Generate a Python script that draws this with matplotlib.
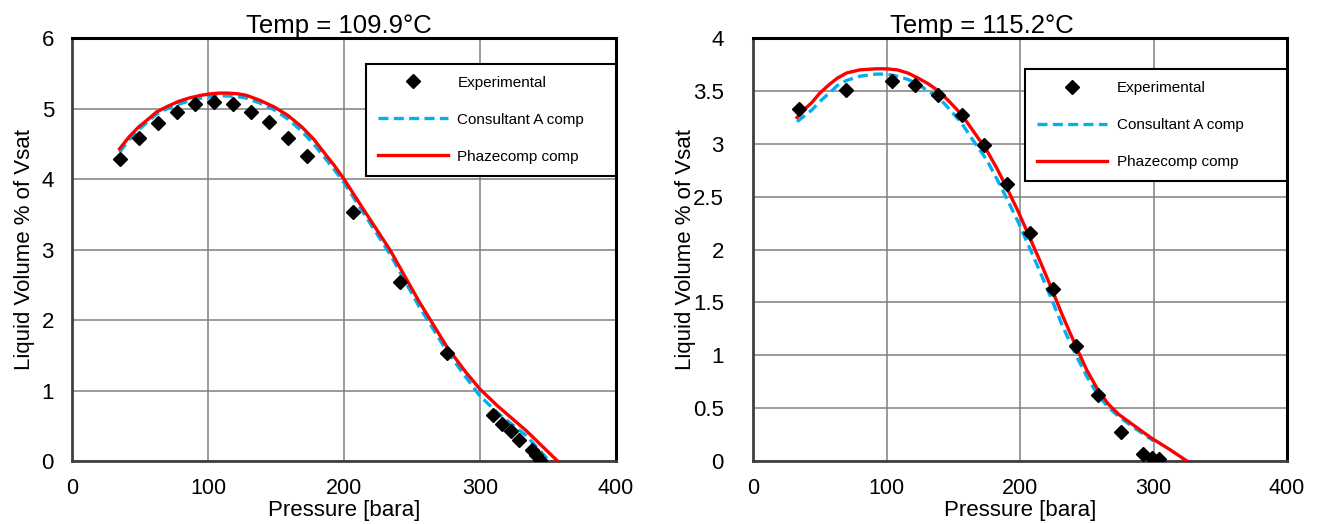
import matplotlib.pyplot as plt

plt.rcParams['font.family'] = ['Liberation Sans', 'DejaVu Sans']

# 109.9 C
exp_p_1 = [35, 49.5, 63, 77, 90.7, 104.4, 118.2, 131.8, 144.6, 159, 173,
           206.6, 241, 275.7, 309.8, 316.4, 322.6, 328.7, 338, 341, 344]
exp_v_1 = [4.29, 4.59, 4.80, 4.95, 5.06, 5.09, 5.06, 4.95, 4.81, 4.59, 4.33,
           3.53, 2.54, 1.53, 0.65, 0.53, 0.42, 0.30, 0.16, 0.08, 0.01]
consA_p_1 = [35, 42, 49, 56, 62, 70, 78, 86, 95, 102, 108, 115, 122, 128, 138, 149, 159, 169,
             178, 186, 193, 200, 215, 234, 255, 276, 290, 300, 315, 334, 351]
consA_v_1 = [4.38, 4.56, 4.70, 4.82, 4.92, 5.00, 5.06, 5.11, 5.15, 5.17, 5.18, 5.18, 5.17, 5.15,
             5.08, 4.98, 4.85, 4.68, 4.49, 4.30, 4.13, 3.95, 3.50, 2.93, 2.20, 1.55, 1.18, 0.92,
             0.65, 0.36, 0.0]
phz_p_1 = [35, 42, 49, 56, 62, 70, 78, 86, 95, 102, 108, 115, 122, 128, 138, 149, 159, 169,
           178, 186, 193, 200, 215, 234, 255, 276, 290, 300, 313, 334, 357]
phz_v_1 = [4.43, 4.60, 4.74, 4.85, 4.95, 5.03, 5.10, 5.15, 5.19, 5.21, 5.22, 5.22, 5.21, 5.19,
           5.12, 5.02, 4.90, 4.74, 4.56, 4.36, 4.19, 4.00, 3.55, 2.99, 2.27, 1.61, 1.25, 1.02,
           0.78, 0.43, 0.0]

# 115.2 C
exp_p_2 = [34.4, 69.5, 104.2, 121.3, 138.8, 156.2, 173.2, 190.1, 207.8, 225, 242.1,
           258.7, 275.4, 292.4, 298.6, 304.4]
exp_v_2 = [3.33, 3.51, 3.59, 3.56, 3.46, 3.27, 2.99, 2.62, 2.16, 1.63, 1.09,
           0.62, 0.27, 0.07, 0.03, 0.02]
consA_p_2 = [33, 38, 44, 50, 57, 63, 70, 80, 92, 100, 108, 116, 124, 131, 139, 147, 156, 165,
             175, 183, 191, 199, 207, 215, 223, 232, 242, 250, 258, 266, 274, 286, 300]
consA_v_2 = [3.21, 3.26, 3.32, 3.40, 3.48, 3.55, 3.60, 3.64, 3.66, 3.66, 3.64, 3.61, 3.56, 3.50,
             3.44, 3.33, 3.20, 3.03, 2.85, 2.66, 2.46, 2.25, 2.02, 1.79, 1.55, 1.27, 1.00, 0.80,
             0.63, 0.51, 0.42, 0.31, 0.19]
phz_p_2 = [33, 38, 44, 50, 57, 63, 70, 80, 92, 100, 108, 116, 124, 131, 139, 147, 156, 165,
           175, 183, 191, 199, 207, 215, 223, 232, 242, 250, 258, 266, 274, 286, 298, 312, 325]
phz_v_2 = [3.25, 3.32, 3.39, 3.48, 3.56, 3.62, 3.67, 3.70, 3.71, 3.71, 3.70, 3.67, 3.62, 3.57,
           3.50, 3.40, 3.28, 3.12, 2.94, 2.76, 2.56, 2.35, 2.12, 1.89, 1.65, 1.37, 1.08, 0.86,
           0.68, 0.54, 0.44, 0.33, 0.22, 0.11, 0.0]

titles = ['Temp = 109.9°C', 'Temp = 115.2°C']
x_ticks = [0, 100, 200, 300, 400]
y_ticks_1 = [0, 1, 2, 3, 4, 5, 6]
y_ticks_2 = [0, 0.5, 1, 1.5, 2, 2.5, 3, 3.5, 4]
y_labels_2 = ['0', '0.5', '1', '1.5', '2', '2.5', '3', '3.5', '4']

fig = plt.figure(figsize=(13.19, 5.24), dpi=100)
ax1 = fig.add_axes([0.0546, 0.1202, 0.4124, 0.807])
ax2 = fig.add_axes([0.5709, 0.1202, 0.4049, 0.807])

panels = [
    (ax1, exp_p_1, exp_v_1, consA_p_1, consA_v_1, phz_p_1, phz_v_1, y_ticks_1,
     [str(t) for t in y_ticks_1], 6, (0.540, 0.678, 0.46, 0.262), 0.491, 13, 5),
    (ax2, exp_p_2, exp_v_2, consA_p_2, consA_v_2, phz_p_2, phz_v_2, y_ticks_2,
     y_labels_2, 4, (0.509, 0.671, 0.491, 0.256), 0.429, 21, -2),
]

for i, (ax, ep, ev, cp, cv, pp, pv, yt, ytl, ymax, lbox, tx, ypad, ylp) in enumerate(panels):
    ax.plot(ep, ev, linestyle='none', marker='D', color='black', markersize=7,
            label='Experimental', zorder=4)
    ax.plot(cp, cv, color='#00B0F0', linewidth=2.4, dashes=(3, 1.6),
            label='Consultant A comp', zorder=3)
    ax.plot(pp, pv, color='#FF0000', linewidth=2.4, label='Phazecomp comp', zorder=3.5)

    ax.set_xlim(0, 400)
    ax.set_ylim(0, ymax)
    ax.set_xticks(x_ticks)
    ax.set_yticks(yt)
    ax.set_yticklabels(ytl)
    ax.tick_params(length=0, labelsize=16)
    ax.tick_params(axis='x', pad=12, labelsize=15.5)
    ax.tick_params(axis='y', pad=ypad)
    ax.grid(True, color='#808080', linewidth=1.1)
    ax.set_axisbelow(True)

    for side in ['top', 'right']:
        ax.spines[side].set_linewidth(2.2)
        ax.spines[side].set_color('black')
    for side in ['left', 'bottom']:
        ax.spines[side].set_linewidth(2.0)
        ax.spines[side].set_color('#404040')

    ax.set_xlabel('Pressure [bara]', fontsize=16, labelpad=1)
    ax.set_ylabel('Liquid Volume % of Vsat', fontsize=16, labelpad=ylp)
    ax.set_title(titles[i], fontsize=18.5, pad=0, x=tx)

    leg = ax.legend(loc='upper left', bbox_to_anchor=lbox, mode='expand',
                    fontsize=11, handlelength=4.6, labelspacing=1.5,
                    borderpad=0.8, fancybox=False, framealpha=1,
                    edgecolor='black', borderaxespad=0, handletextpad=0.6)
    leg.get_frame().set_linewidth(1.5)
    leg.set_zorder(5)

fig.savefig('out.png', dpi=100)
